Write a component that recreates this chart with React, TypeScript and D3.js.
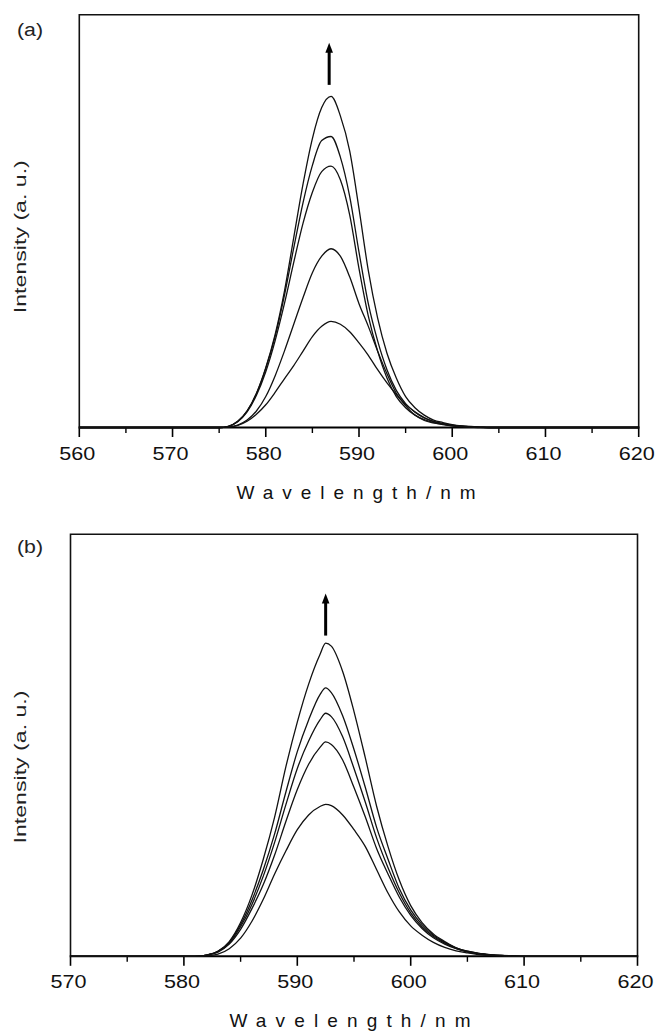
import React from "react";
import * as d3 from "d3";

// ---------- data ----------
const WL_A = [560, 575, 576, 577, 578, 579, 580, 581, 582, 583, 584, 585, 586, 587, 588, 589, 590, 591, 592, 593, 594, 595, 596, 597, 598, 599, 600, 601, 602, 603, 604, 605, 620];
const A1 = [0, 0, 0.3, 1.5, 4, 8.3, 14.5, 22.5, 33, 46, 59, 70, 77.5, 80.2, 75.5, 67, 53, 38, 26.5, 18, 12, 7.5, 4.8, 3, 1.8, 1.2, 0.7, 0.4, 0.25, 0.1, 0, 0, 0];
const A2 = [0, 0, 0.3, 1.5, 4, 8.2, 14.3, 22, 32, 43.5, 54.5, 63.5, 69.5, 70.5, 65.5, 56, 42.5, 30, 21, 14, 9, 5.8, 3.7, 2.3, 1.5, 1, 0.6, 0.35, 0.2, 0.1, 0, 0, 0];
const A3 = [0, 0, 0.3, 1.4, 3.8, 7.8, 13.5, 21, 30, 40, 49.5, 57, 62, 63.3, 60, 51.5, 38.5, 27, 18.5, 12, 7.5, 4.8, 3, 1.9, 1.2, 0.8, 0.5, 0.3, 0.15, 0.05, 0, 0, 0];
const A4 = [0, 0, 0.1, 0.6, 1.8, 4, 7.5, 12.5, 18.5, 25, 31.5, 37.5, 41.5, 43.3, 41.5, 36.5, 30, 24.5, 18.5, 13, 8.3, 5.3, 3, 1.7, 1.1, 0.7, 0.4, 0.25, 0.1, 0.05, 0, 0, 0];
const A5 = [0, 0, 0.1, 0.5, 1.5, 3.2, 5.5, 8.5, 11.8, 15, 18.5, 22, 24.5, 25.7, 25, 23.2, 20.5, 17.5, 14, 10.8, 8, 5.6, 3.8, 2.4, 1.4, 0.8, 0.4, 0.2, 0.1, 0, 0, 0, 0];

const WL_B = [570, 581, 582, 583, 584, 585, 586, 587, 588, 589, 590, 591, 592, 592.5, 593, 594, 595, 596, 597, 598, 599, 600, 601, 602, 603, 604, 605, 606, 607, 608, 609, 610, 611, 620];
const B1 = [0, 0, 0.3, 1.2, 3.5, 8, 14.5, 23, 33, 45, 55.5, 64.5, 71.5, 74.2, 73.5, 67.5, 58, 47, 35.5, 26, 18, 12, 8, 5.3, 3.5, 2, 1.2, 0.7, 0.4, 0.2, 0.1, 0, 0, 0];
const B2 = [0, 0, 0.3, 1.2, 3.3, 7.5, 13.3, 20.5, 29, 39, 48.5, 56, 62, 63.6, 62.5, 57, 49, 40, 30.5, 23, 16, 11, 7.5, 5, 3.3, 2, 1.2, 0.7, 0.4, 0.2, 0.1, 0, 0, 0];
const B3 = [0, 0, 0.3, 1.1, 3.1, 7, 12.3, 19, 27, 36, 44.5, 51, 56, 57.6, 56.8, 52, 44.5, 36.5, 28, 21, 15, 10.3, 7, 4.7, 3.1, 1.9, 1.1, 0.6, 0.35, 0.2, 0.1, 0, 0, 0];
const B4 = [0, 0, 0.3, 1, 2.9, 6.4, 11.3, 17, 24, 32, 39.5, 45.5, 49.5, 50.8, 50.2, 46.5, 40, 33, 25.5, 19.5, 14, 9.7, 6.6, 4.4, 2.9, 1.8, 1, 0.6, 0.3, 0.15, 0.05, 0, 0, 0];
const B5 = [0, 0, 0.1, 0.5, 1.8, 4.3, 8.3, 13.5, 19.5, 25, 30, 33.5, 35.5, 36, 35.7, 33.5, 30, 26, 20.5, 15, 10.5, 7.2, 5, 3.3, 2.1, 1.3, 0.8, 0.4, 0.2, 0.1, 0, 0, 0, 0];

const TICKS_A = [560, 570, 580, 590, 600, 610, 620];
const MINOR_A = [565, 575, 585, 595, 605, 615];
const TICKS_B = [570, 580, 590, 600, 610, 620];
const MINOR_B = [575, 585, 595, 605, 615];

const ARROW_A = { wl: 586.8, from: 83, to: 93.2 };
const ARROW_B = { wl: 592.5, from: 76, to: 86 };

const FONT = "'Liberation Sans', Arial, Helvetica, sans-serif";

type PanelProps = {
  label: string;
  wl: number[];
  series: number[][];
  ticks: number[];
  minor: number[];
  arrow: { wl: number; from: number; to: number };
  left: number;
  right: number;
  top: number;
  bottom: number;
  labelY: number;
  yLabelCenter: number;
  titleCenter: number;
  titleLen: number;
};

function Panel(p: PanelProps) {
  const x = d3.scaleLinear().domain([p.ticks[0], p.ticks[p.ticks.length - 1]]).range([p.left, p.right]);
  const y = d3.scaleLinear().domain([0, 100]).range([p.bottom, p.top]);
  const line = d3
    .line<number>()
    .x((_, i) => x(p.wl[i]))
    .y((d) => y(d))
    .curve(d3.curveMonotoneX);
  const ax = x(p.arrow.wl);
  const ay0 = y(p.arrow.from);
  const ay1 = y(p.arrow.to);
  return (
    <g>
      <text x={30} y={p.labelY} fontFamily={FONT} fontSize={18} textAnchor="middle" textLength={26} lengthAdjust="spacingAndGlyphs" fill="#222">
        {p.label}
      </text>
      {/* frame */}
      <path
        d={`M${p.left},${p.bottom}V${p.top}H${p.right}V${p.bottom}`}
        fill="none"
        stroke="#111"
        strokeWidth={1.6}
      />
      <line x1={p.left - 0.8} x2={p.right + 0.8} y1={p.bottom} y2={p.bottom} stroke="#000" strokeWidth={2} />
      {p.ticks.map((t) => (
        <g key={"t" + t}>
          <line x1={x(t)} x2={x(t)} y1={p.bottom} y2={p.bottom + 9.5} stroke="#000" strokeWidth={1.6} />
          <text
            x={x(t) - 2}
            y={p.bottom + 32}
            fontFamily={FONT}
            fontSize={19}
            textAnchor="middle"
            textLength={36}
            lengthAdjust="spacingAndGlyphs"
            fill="#111"
          >
            {t}
          </text>
        </g>
      ))}
      {p.minor.map((t) => (
        <line key={"m" + t} x1={x(t)} x2={x(t)} y1={p.bottom} y2={p.bottom + 5.5} stroke="#000" strokeWidth={1.4} />
      ))}
      {/* curves */}
      {p.series.map((s, i) => (
        <path key={"s" + i} d={line(s) || ""} fill="none" stroke="#111" strokeWidth={1.3} />
      ))}
      {/* arrow */}
      <line x1={ax} x2={ax} y1={ay0} y2={ay1 + 8} stroke="#000" strokeWidth={3} />
      <path d={`M${ax},${ay1}L${ax - 3.8},${ay1 + 10}L${ax + 3.8},${ay1 + 10}Z`} fill="#000" />
      {/* axis titles */}
      <text
        x={p.titleCenter}
        y={p.bottom + 71}
        fontFamily={FONT}
        fontSize={19}
        textAnchor="middle"
        textLength={p.titleLen}
        lengthAdjust="spacing"
        fill="#111"
      >
        Wavelength/nm
      </text>
      <text
        transform={`translate(26,${p.yLabelCenter}) rotate(-90)`}
        fontFamily={FONT}
        fontSize={17}
        textAnchor="middle"
        textLength={153}
        lengthAdjust="spacingAndGlyphs"
        fill="#222"
      >
        Intensity (a. u.)
      </text>
    </g>
  );
}

export default function App() {
  return (
    <svg
      width={655}
      height={1031}
      viewBox="0 0 655 1031"
      style={{ position: "absolute", left: 0, top: 0, background: "#fff" }}
    >
      <rect x={0} y={0} width={655} height={1031} fill="#fff" />
      <Panel
        label="(a)"
        wl={WL_A}
        series={[A1, A2, A3, A4, A5]}
        ticks={TICKS_A}
        minor={MINOR_A}
        arrow={ARROW_A}
        left={79.3}
        right={638.7}
        top={14.7}
        bottom={427.5}
        labelY={36}
        yLabelCenter={236.7}
        titleCenter={356}
        titleLen={239}
      />
      <Panel
        label="(b)"
        wl={WL_B}
        series={[B1, B2, B3, B4, B5]}
        ticks={TICKS_B}
        minor={MINOR_B}
        arrow={ARROW_B}
        left={70.5}
        right={637.5}
        top={534.3}
        bottom={956.3}
        labelY={553}
        yLabelCenter={767}
        titleCenter={350}
        titleLen={241}
      />
    </svg>
  );
}
